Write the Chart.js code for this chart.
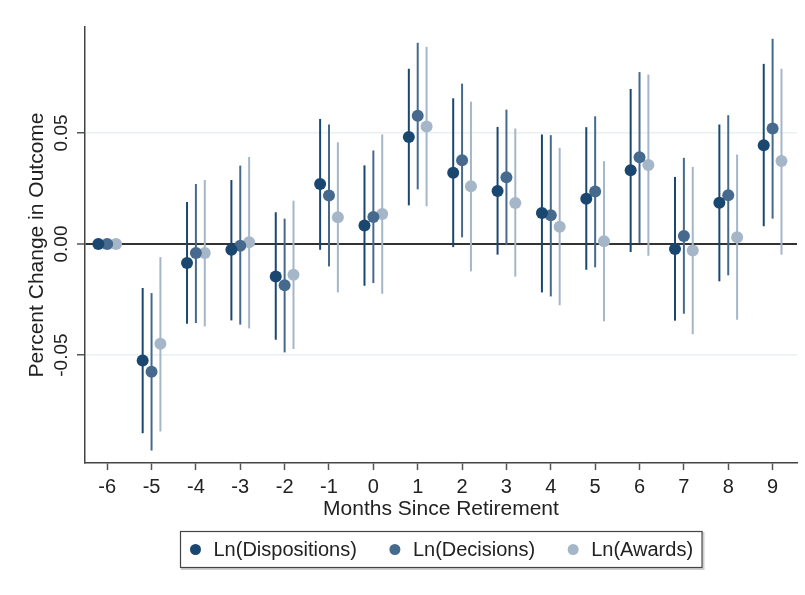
<!DOCTYPE html>
<html>
<head>
<meta charset="utf-8">
<script src="https://cdn.jsdelivr.net/npm/chart.js@4.4.1/dist/chart.umd.min.js"></script>
<style>
  html, body { margin: 0; padding: 0; background: #fff; }
  canvas { display: block; }
</style>
</head>
<body>
<canvas id="chart" width="805" height="595"></canvas>
<script>
// months relative to retirement (x axis)
const months = [-6, -5, -4, -3, -2, -1, 0, 1, 2, 3, 4, 5, 6, 7, 8, 9];
const yTicks = [-0.05, 0, 0.05];

// point estimates and 95% CI bounds
const dispEst = [0, -0.0524, -0.0086, -0.0026, -0.0146, 0.0270, 0.0083, 0.0482, 0.0321, 0.0239, 0.0140, 0.0204, 0.0332, -0.0023, 0.0186, 0.0445];
const dispLo  = [null, -0.0852, -0.0359, -0.0344, -0.0431, -0.0026, -0.0188, 0.0174, -0.0014, -0.0048, -0.0218, -0.0116, -0.0036, -0.0345, -0.0168, 0.0080];
const dispHi  = [null, -0.0198, 0.0189, 0.0288, 0.0143, 0.0563, 0.0354, 0.0789, 0.0656, 0.0527, 0.0493, 0.0526, 0.0698, 0.0302, 0.0538, 0.0811];

const decEst = [0, -0.0575, -0.0041, -0.0008, -0.0186, 0.0218, 0.0122, 0.0577, 0.0377, 0.0300, 0.0129, 0.0236, 0.0391, 0.0036, 0.0219, 0.0520];
const decLo  = [null, -0.0930, -0.0356, -0.0363, -0.0488, -0.0101, -0.0176, 0.0246, 0.0030, -0.0005, -0.0236, -0.0105, 0.0005, -0.0314, -0.0141, 0.0114];
const decHi  = [null, -0.0221, 0.0270, 0.0353, 0.0114, 0.0538, 0.0421, 0.0906, 0.0722, 0.0605, 0.0490, 0.0575, 0.0774, 0.0388, 0.0580, 0.0924];

const awdEst = [0, -0.0449, -0.0041, 0.0008, -0.0138, 0.0120, 0.0135, 0.0529, 0.0260, 0.0185, 0.0078, 0.0012, 0.0356, -0.0029, 0.0030, 0.0374];
const awdLo  = [null, -0.0844, -0.0371, -0.0380, -0.0473, -0.0218, -0.0224, 0.0170, -0.0123, -0.0147, -0.0276, -0.0348, -0.0053, -0.0406, -0.0341, -0.0048];
const awdHi  = [null, -0.0059, 0.0288, 0.0392, 0.0195, 0.0458, 0.0493, 0.0888, 0.0641, 0.0520, 0.0433, 0.0373, 0.0763, 0.0347, 0.0403, 0.0789];

const FONT = "'Liberation Sans', Arial, sans-serif";

function series(label, est, lo, hi, dodge, color) {
    return {
        label: label,
        data: months.map((m, i) => ({x: m + dodge, y: est[i], lo: lo[i], hi: hi[i]})),
        backgroundColor: color,
        borderColor: color,
        pointRadius: 6,
        pointHoverRadius: 6,
        borderWidth: 0,
        showLine: false
    };
}

// vertical CI bars, drawn below the dots
const ciBars = {
    id: "ciBars",
    beforeDatasetsDraw(chart) {
        let ctx = chart.ctx;
        let xs = chart.scales.x, ys = chart.scales.y;
        ctx.save();
        chart.data.datasets.forEach(ds => {
            ctx.strokeStyle = ds.borderColor;
            ctx.lineWidth = 2;
            ds.data.forEach(p => {
                if (p.lo == null) return;
                let px = xs.getPixelForValue(p.x);
                ctx.beginPath();
                ctx.moveTo(px, ys.getPixelForValue(p.lo));
                ctx.lineTo(px, ys.getPixelForValue(p.hi));
                ctx.stroke();
            });
        });
        ctx.restore();
    }
};

// rotated y tick labels + boxed legend (Stata style)
const extras = {
    id: "extras",
    afterDraw(chart) {
        let ctx = chart.ctx;
        let ys = chart.scales.y;
        ctx.save();
        ctx.fillStyle = "#222";
        ctx.font = "19px " + FONT;
        ctx.textAlign = "center";
        ctx.textBaseline = "middle";
        yTicks.forEach(v => {
            ctx.save();
            ctx.translate(62, ys.getPixelForValue(v));
            ctx.rotate(-Math.PI / 2);
            ctx.fillText(v.toFixed(2), 0, 0);
            ctx.restore();
        });

        // legend
        let area = chart.chartArea;
        ctx.font = "20px " + FONT;
        let items = chart.data.datasets.map(ds => ({label: ds.label, color: ds.backgroundColor, w: ctx.measureText(ds.label).width}));
        let gap = 38, txtOff = 18;
        let contentW = items.reduce((s, it) => s + txtOff + it.w, 0) + gap * (items.length - 1);
        let boxW = contentW + 15 + 9;
        let boxL = Math.round((area.left + area.right) / 2 - boxW / 2) + 0.5;
        let boxT = chart.height - 64 + 0.5, boxH = 36;
        ctx.strokeStyle = "#cfcfcf";
        ctx.lineWidth = 2;
        ctx.strokeRect(boxL + 1.5, boxT + 1.5, boxW, boxH);
        ctx.fillStyle = "#fff";
        ctx.fillRect(boxL, boxT, boxW, boxH);
        ctx.strokeStyle = "#444";
        ctx.lineWidth = 1.2;
        ctx.strokeRect(boxL, boxT, boxW, boxH);
        let cx = boxL + 15, cy = boxT + boxH / 2;
        ctx.textAlign = "left";
        items.forEach(it => {
            ctx.fillStyle = it.color;
            ctx.beginPath();
            ctx.arc(cx, cy, 5.5, 0, Math.PI * 2);
            ctx.fill();
            ctx.fillStyle = "#222";
            ctx.fillText(it.label, cx + txtOff, cy + 1);
            cx += txtOff + it.w + gap;
        });
        ctx.restore();
    }
};

let chart = new Chart(document.getElementById("chart"), {
    type: "scatter",
    data: {
        datasets: [
            series("Ln(Dispositions)", dispEst, dispLo, dispHi, -0.2, "#1a476f"),
            series("Ln(Decisions)", decEst, decLo, decHi, 0, "#466a8d"),
            series("Ln(Awards)", awdEst, awdLo, awdHi, 0.2, "#a5b6c8")
        ]
    },
    options: {
        responsive: false,
        animation: false,
        layout: {padding: {top: 27, right: 8, left: 0, bottom: 66}},
        plugins: {
            legend: {display: false},
            tooltip: {enabled: false}
        },
        scales: {
            x: {
                type: "linear",
                min: -6.5,
                max: 9.55,
                afterBuildTicks: s => { s.ticks = months.map(v => ({value: v})); },
                afterFit: s => { s.height = 66; },
                grid: {drawOnChartArea: false, drawTicks: true, tickLength: 7, color: "#555", tickWidth: 1.5},
                border: {color: "#444", width: 1.5},
                ticks: {color: "#222", font: {family: FONT, size: 20}, padding: 5, maxRotation: 0},
                title: {display: true, text: "Months Since Retirement", color: "#222", font: {family: FONT, size: 21}, padding: {top: 0, bottom: 7}}
            },
            y: {
                min: -0.0986,
                max: 0.0977,
                afterBuildTicks: s => { s.ticks = yTicks.map(v => ({value: v})); },
                afterFit: s => { s.width = 85; },
                grid: {
                    color: c => c.tick.value === 0 ? "#333" : "#e8f0f2",
                    lineWidth: c => c.tick.value === 0 ? 2 : 1.5,
                    tickColor: "#555",
                    tickLength: 8,
                    tickWidth: 1.5
                },
                border: {color: "#444", width: 1.5},
                ticks: {display: false},
                title: {display: true, text: "Percent Change in Outcome", color: "#222", font: {family: FONT, size: 21}, padding: {top: 25, bottom: 0}}
            }
        }
    },
    plugins: [ciBars, extras]
});
</script>
</body>
</html>
